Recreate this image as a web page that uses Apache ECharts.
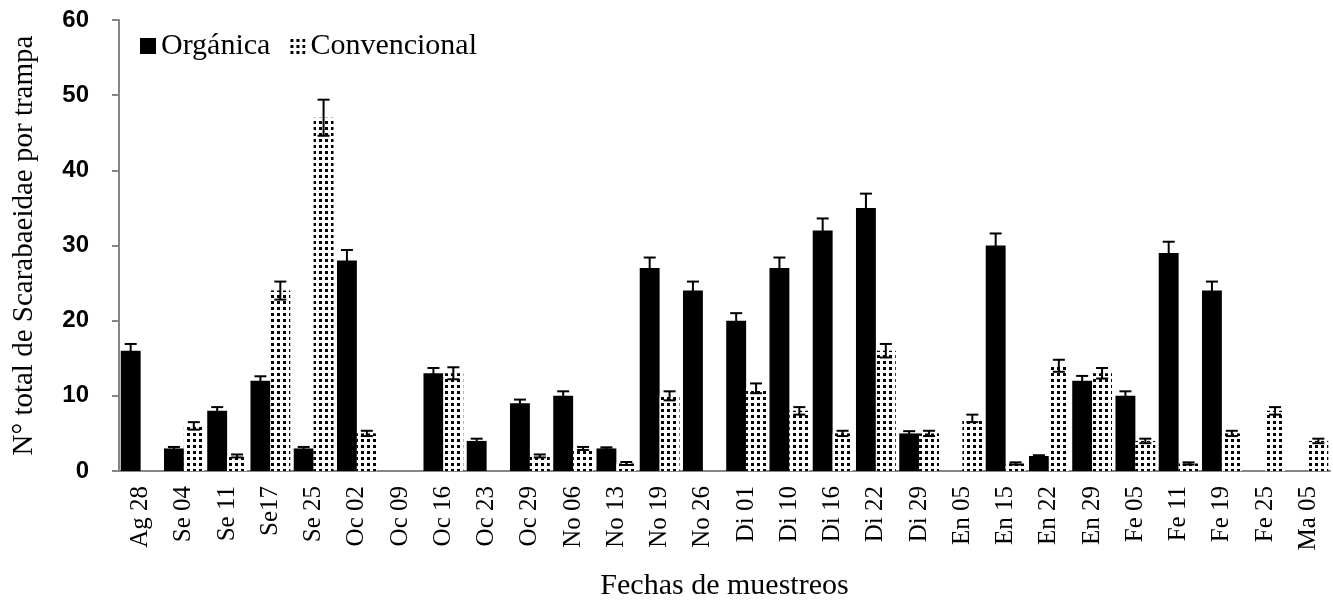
<!DOCTYPE html>
<html>
<head>
<meta charset="utf-8">
<script src="https://cdn.jsdelivr.net/npm/echarts@6/dist/echarts.min.js"></script>
<style>
html,body{margin:0;padding:0;background:#fff;}
#chart{width:1333px;height:603px;}
</style>
</head>
<body>
<div id="chart"></div>
<script>
// ---- data ----
const categories = ['Ag 28','Se 04','Se 11','Se17','Se 25','Oc 02','Oc 09','Oc 16','Oc 23','Oc 29','No 06','No 13','No 19','No 26','Di 01','Di 10','Di 16','Di 22','Di 29','En 05','En 15','En 22','En 29','Fe 05','Fe 11','Fe 19','Fe 25','Ma 05'];
const organica     = [16, 3, 8, 12, 3, 28, 0, 13, 4, 9, 10, 3, 27, 24, 20, 27, 32, 35, 5, 0, 30, 2, 12, 10, 29, 24, 0, 0];
const organicaErr  = [0.9, 0.2, 0.5, 0.6, 0.2, 1.4, 0, 0.7, 0.3, 0.5, 0.6, 0.15, 1.4, 1.2, 1.0, 1.4, 1.6, 1.9, 0.3, 0, 1.6, 0.1, 0.65, 0.6, 1.5, 1.2, 0, 0];
const convencional    = [0, 6, 2, 24, 47, 5, 0, 13, 0, 2, 3, 1, 10, 0, 11, 8, 5, 16, 5, 7, 1, 14, 13, 4, 1, 5, 8, 4];
const convencionalErr = [0, 0.5, 0.2, 1.2, 2.4, 0.35, 0, 0.8, 0, 0.2, 0.2, 0.2, 0.6, 0, 0.65, 0.5, 0.35, 0.9, 0.35, 0.5, 0.15, 0.8, 0.7, 0.3, 0.15, 0.35, 0.5, 0.3];
const yTicks = [0, 10, 20, 30, 40, 50, 60];

// ---- style ----
const CAT_GAP = 0.08;
const SERIF = '"Liberation Serif", "Times New Roman", serif';

function makePattern(){
  const c = document.createElement('canvas');
  c.width = 6; c.height = 6;
  const ctx = c.getContext('2d');
  ctx.fillStyle = '#fff'; ctx.fillRect(0,0,6,6);
  ctx.fillStyle = '#000'; ctx.fillRect(1,1,3,3);
  return c;
}
const pattern = {image: makePattern(), repeat: 'repeat'};

function errSeries(name, vals, errs, side){
  return {
    type: 'custom',
    name: name + '_err',
    z: 10,
    silent: true,
    data: vals.map((v,i)=>[i, v, errs[i]]),
    renderItem: function(params, api){
      const i = api.value(0), v = api.value(1), e = api.value(2);
      if (!e) return null;
      const catW = api.size([1,0])[0];
      const w = catW*(1-CAT_GAP)/2;
      const c = api.coord([i, v]);
      const cx = c[0] + side*w/2;
      const top = api.coord([i, v+e])[1];
      const bot = api.coord([i, v-e])[1];
      const cap = 6;
      const st = {stroke:'#000', lineWidth:2};
      return {type:'group', children:[
        {type:'line', shape:{x1:cx,y1:top,x2:cx,y2:bot}, style:st},
        {type:'line', shape:{x1:cx-cap,y1:top,x2:cx+cap,y2:top}, style:st},
        {type:'line', shape:{x1:cx-cap,y1:bot,x2:cx+cap,y2:bot}, style:st}
      ]};
    }
  };
}

const chart = echarts.init(document.getElementById('chart'), null, {renderer:'canvas'});
chart.setOption({
  backgroundColor: '#fff',
  animation: false,
  grid: {left:119, right:3, top:20, bottom:132, containLabel:false, outerBoundsMode:'none'},
  legend: {
    left: 135, top: 26,
    itemWidth: 16, itemHeight: 16, itemGap: 19,
    data: [{name:'Orgánica', icon:'rect'}, {name:'Convencional', icon:'rect'}],
    textStyle: {fontFamily: SERIF, fontSize: 30, color:'#000'}
  },
  xAxis: {
    type: 'category',
    data: categories,
    name: 'Fechas de muestreos',
    nameLocation: 'middle',
    nameGap: 100,
    nameTextStyle: {fontFamily: SERIF, fontSize: 30, color:'#000'},
    axisLine: {lineStyle:{color:'#868686', width:2}},
    axisTick: {show:false},
    axisLabel: {rotate: 90, fontFamily: SERIF, fontSize: 25, color:'#000', margin: 15, interval: 0}
  },
  yAxis: {
    type: 'value',
    min: yTicks[0], max: yTicks[yTicks.length-1], interval: 10,
    name: 'N° total de Scarabaeidae por trampa',
    nameLocation: 'middle',
    nameGap: 80,
    nameTextStyle: {fontFamily: SERIF, fontSize: 29, color:'#000'},
    axisLine: {show:true, lineStyle:{color:'#868686', width:2}},
    axisTick: {show:true, inside:false, length:7, lineStyle:{color:'#868686', width:2}},
    splitLine: {show:false},
    axisLabel: {fontFamily:'"Liberation Sans", Arial, sans-serif', fontWeight:'bold', fontSize:24, color:'#000', margin: 30}
  },
  series: [
    {name:'Orgánica', type:'bar', data: organica, barGap:'0%', barCategoryGap:(CAT_GAP*100)+'%',
     itemStyle:{color:'#000'}},
    {name:'Convencional', type:'bar', data: convencional, barGap:'0%', barCategoryGap:(CAT_GAP*100)+'%',
     itemStyle:{color: pattern}},
    errSeries('Orgánica', organica, organicaErr, -1),
    errSeries('Convencional', convencional, convencionalErr, 1)
  ]
});
</script>
</body>
</html>
